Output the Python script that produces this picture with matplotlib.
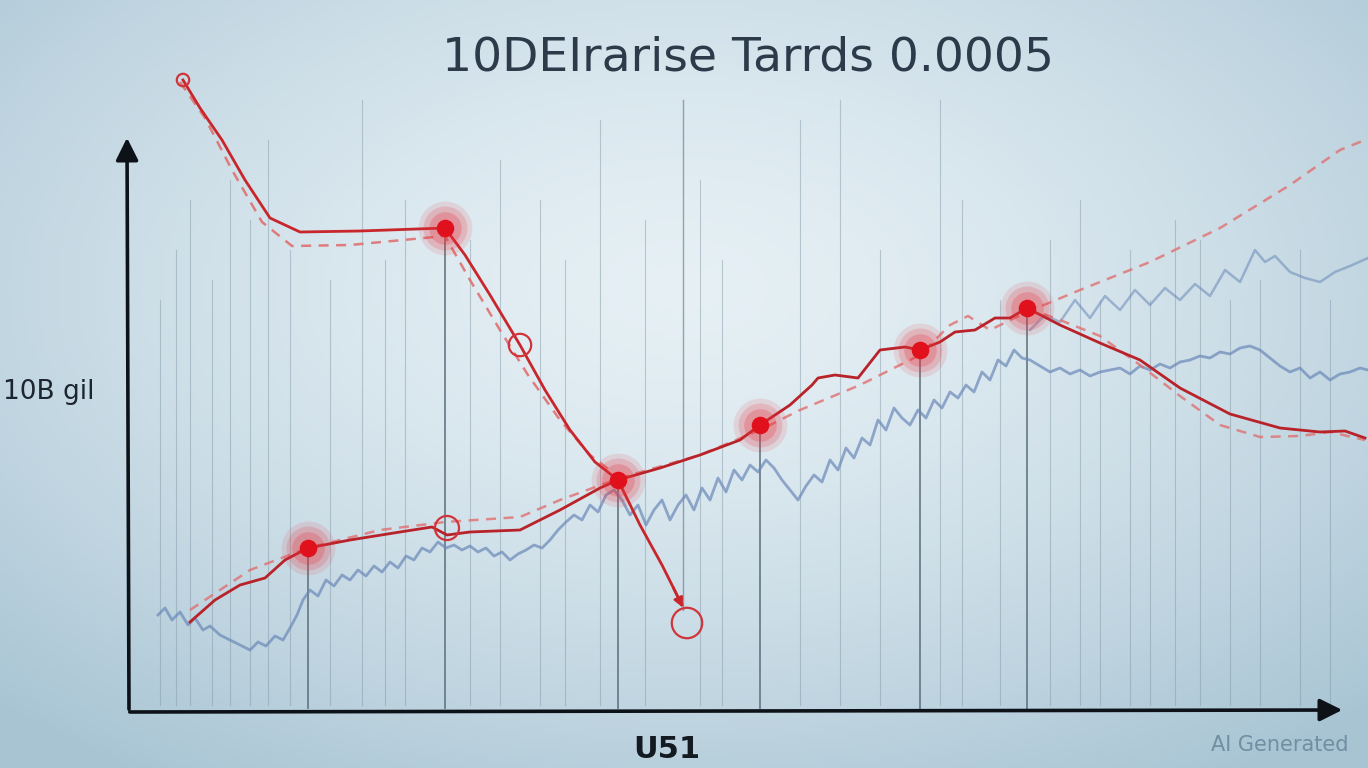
import matplotlib.pyplot as plt
import numpy as np

# canvas is laid out in picture units: x to the right, y downwards (0..768)
W, H = 1368, 768

title = "10DEIrarise Tarrds 0.0005"
ylabel = "10B gil"
xlabel = "U51"
watermark = "AI Generated"

# falling red line (solid) and its dashed twin
fall_x = [183, 200, 222, 245, 270, 300, 360, 445, 465, 490, 520, 545, 570, 595, 618, 640, 662, 682]
fall_y = [80, 108, 140, 180, 218, 232, 231, 228, 255, 295, 345, 390, 430, 462, 480, 525, 565, 605]
fall_dash_x = [180, 205, 232, 262, 292, 350, 445, 470, 500, 528, 560, 590, 620]
fall_dash_y = [82, 118, 170, 222, 246, 245, 236, 280, 330, 375, 420, 455, 478]

# rising red line (solid)
rise_x = [190, 215, 240, 265, 285, 308, 350, 400, 432, 447, 470, 520, 560, 600, 618, 660, 700,
          740, 760, 790, 812, 818, 835, 858, 880, 905, 920, 940, 955, 975, 995, 1010, 1027, 1060,
          1100, 1140, 1180, 1230, 1280, 1320, 1345, 1365]
rise_y = [622, 600, 585, 578, 560, 548, 540, 532, 527, 535, 532, 530, 510, 488, 480, 468, 455,
          440, 425, 405, 385, 378, 375, 378, 350, 347, 350, 342, 332, 330, 318, 318, 308, 325,
          343, 360, 388, 414, 428, 432, 431, 438]
# rising red line (dashed) and the dashed tail going down on the right
rise_dash_x = [190, 250, 308, 380, 445, 520, 560, 620, 700, 760, 800, 860, 920, 950, 968, 990,
               1027, 1080, 1150, 1220, 1290, 1340, 1365]
rise_dash_y = [610, 570, 548, 530, 522, 517, 500, 478, 455, 430, 410, 385, 355, 325, 316, 330,
               312, 290, 262, 228, 185, 150, 140]
tail_dash_x = [1027, 1060, 1100, 1140, 1180, 1220, 1260, 1300, 1330, 1365]
tail_dash_y = [308, 320, 336, 365, 396, 425, 437, 436, 432, 440]

# noisy blue series (read point by point)
blue_x = [158, 165, 172, 180, 188, 195, 203, 210, 220, 230, 240, 250, 258, 266, 275, 283, 290,
          297, 303, 310, 318, 326, 334, 342, 350, 358, 366, 374, 382, 390, 398, 406, 414, 422,
          430, 438, 446, 454, 462, 470, 478, 486, 494, 502, 510, 518, 526, 534, 542, 550, 558,
          566, 574, 582, 590, 598, 606, 614, 622, 630, 638, 646, 654, 662, 670, 678, 686, 694,
          702, 710, 718, 726, 734, 742, 750, 758, 766, 774, 782, 790, 798, 806, 814, 822, 830,
          838, 846, 854, 862, 870, 878, 886, 894, 902, 910, 918, 926, 934, 942, 950, 958, 966,
          974, 982, 990, 998, 1006, 1014, 1022, 1030, 1040, 1050, 1060, 1070, 1080, 1090, 1100,
          1110, 1120, 1130, 1140, 1150, 1160, 1170, 1180, 1190, 1200, 1210, 1220, 1230, 1240,
          1250, 1260, 1270, 1280, 1290, 1300, 1310, 1320, 1330, 1340, 1350, 1360, 1368]
blue_y = [615, 608, 620, 612, 625, 618, 630, 626, 635, 640, 645, 650, 642, 646, 636, 640, 628,
          615, 600, 590, 596, 580, 586, 575, 580, 570, 576, 566, 572, 562, 568, 556, 560, 548,
          552, 542, 548, 545, 550, 546, 552, 548, 556, 552, 560, 554, 550, 545, 548, 540, 530,
          522, 515, 520, 505, 512, 495, 490, 500, 515, 505, 525, 510, 500, 520, 505, 495, 510,
          488, 500, 478, 492, 470, 480, 465, 472, 460, 468, 480, 490, 500, 486, 475, 482, 460,
          470, 448, 458, 438, 445, 420, 430, 408, 418, 425, 410, 418, 400, 408, 392, 398, 385,
          392, 372, 380, 360, 366, 350, 358, 360, 366, 372, 368, 374, 370, 376, 372, 370, 368,
          374, 366, 370, 364, 368, 362, 360, 356, 358, 352, 354, 348, 346, 350, 358, 366, 372,
          368, 378, 372, 380, 374, 372, 368, 370]
blue2_x = [1030, 1045, 1060, 1075, 1090, 1105, 1120, 1135, 1150, 1165, 1180, 1195, 1210, 1225,
           1240, 1255, 1265, 1275, 1290, 1305, 1320, 1335, 1350, 1368]
blue2_y = [330, 315, 322, 300, 318, 296, 310, 290, 305, 288, 300, 284, 296, 270, 282, 250, 262,
           256, 272, 278, 282, 272, 266, 258]

# highlighted points (filled with glow) and open rings
hot_x = [308, 445, 618, 760, 920, 1027]
hot_y = [548, 228, 480, 425, 350, 308]
ring_x = [183, 520, 447, 687]
ring_y = [80, 345, 528, 623]
ring_size = [80, 260, 300, 480]

# faint vertical grid lines
grid_x = [160, 176, 190, 212, 230, 250, 268, 290, 330, 362, 385, 405, 470, 500, 540, 565, 600,
          645, 700, 722, 800, 840, 880, 940, 962, 1000, 1050, 1080, 1100, 1130, 1150, 1175,
          1200, 1230, 1260, 1300, 1330]
grid_top = [300, 250, 200, 280, 180, 220, 140, 250, 280, 100, 260, 200, 240, 160, 200, 260, 120,
            220, 180, 260, 120, 100, 250, 100, 200, 300, 240, 200, 300, 250, 300, 220, 240, 300,
            280, 250, 300]

fig = plt.figure(figsize=(W / 100, H / 100), dpi=100)
ax = fig.add_axes([0, 0, 1, 1])
ax.set_xlim(0, W)
ax.set_ylim(H, 0)
ax.axis("off")

# background: pale centre fading to a steel blue edge
gx, gy = np.meshgrid(np.linspace(-1, 1, 274), np.linspace(-1, 1, 154))
d = np.sqrt((gx * 0.9) ** 2 + ((gy + 0.25) * 0.85) ** 2)
c0 = np.array([0.90, 0.94, 0.96])
c1 = np.array([0.66, 0.77, 0.83])
t = np.clip(d / 1.3, 0, 1)[..., None] ** 1.5
bg = c0 * (1 - t) + c1 * t
ax.imshow(bg, extent=[0, W, H, 0], aspect="auto", zorder=0)

for gxv, top in zip(grid_x, grid_top):
    ax.plot([gxv, gxv], [top, 705], color="#7f95a3", lw=0.8, alpha=0.45, zorder=1)
# drop lines under the highlighted points
for hx, hy in zip(hot_x, hot_y):
    ax.plot([hx, hx], [hy, 708], color="#5a6e7c", lw=1.3, alpha=0.85, zorder=1)
ax.plot([683, 683], [100, 610], color="#6d8292", lw=1.0, alpha=0.7, zorder=1)

# blue noise series
ax.plot(blue_x, blue_y, color="#6a88b8", lw=2.0, alpha=0.7, zorder=2)
ax.plot(blue2_x, blue2_y, color="#6a88b8", lw=1.8, alpha=0.55, zorder=2)

# red series
ax.plot(fall_dash_x, fall_dash_y, color="#e06a6a", lw=1.8, ls=(0, (4, 3)), alpha=0.85, zorder=3)
ax.plot(rise_dash_x, rise_dash_y, color="#e07070", lw=1.8, ls=(0, (4, 3)), alpha=0.8, zorder=3)
ax.plot(tail_dash_x, tail_dash_y, color="#e07070", lw=1.8, ls=(0, (4, 3)), alpha=0.8, zorder=3)
ax.plot(fall_x, fall_y, color="#c8262b", lw=2.0, zorder=4)
ax.plot(rise_x, rise_y, color="#b82228", lw=2.0, zorder=4)
ax.annotate("", xy=(684, 610), xytext=(672, 585),
            arrowprops=dict(arrowstyle="-|>", color="#c8262b", lw=1.8, mutation_scale=14), zorder=4)

for s, a in [(1500, 0.12), (1000, 0.18), (550, 0.25)]:
    ax.scatter(hot_x, hot_y, s=s, color="#e8303a", alpha=a, lw=0, zorder=5)
ax.scatter(hot_x, hot_y, s=160, color="#e0101c", lw=0, zorder=6)
ax.scatter(ring_x, ring_y, s=ring_size, facecolor="none", edgecolor="#d0343a", lw=1.6, zorder=6)

# axes arrows
ax.annotate("", xy=(127, 135), xytext=(129, 712),
            arrowprops=dict(arrowstyle="-|>", color="#0d1218", lw=2.6, mutation_scale=34), zorder=7)
ax.annotate("", xy=(1345, 710), xytext=(127, 712),
            arrowprops=dict(arrowstyle="-|>", color="#0d1218", lw=2.6, mutation_scale=34), zorder=7)

ax.text(748, 58, title, fontsize=34, color="#2c3a4a", ha="center", va="center", zorder=8)
ax.text(3, 392, ylabel, fontsize=19, color="#1d2530", ha="left", va="center", zorder=8)
ax.text(667, 750, xlabel, fontsize=22, fontweight="bold", color="#141a22",
        ha="center", va="center", zorder=8)
ax.text(1280, 745, watermark, fontsize=15, color="#6f8fa2", ha="center", va="center", zorder=8)

fig.savefig("out.png", dpi=100)
